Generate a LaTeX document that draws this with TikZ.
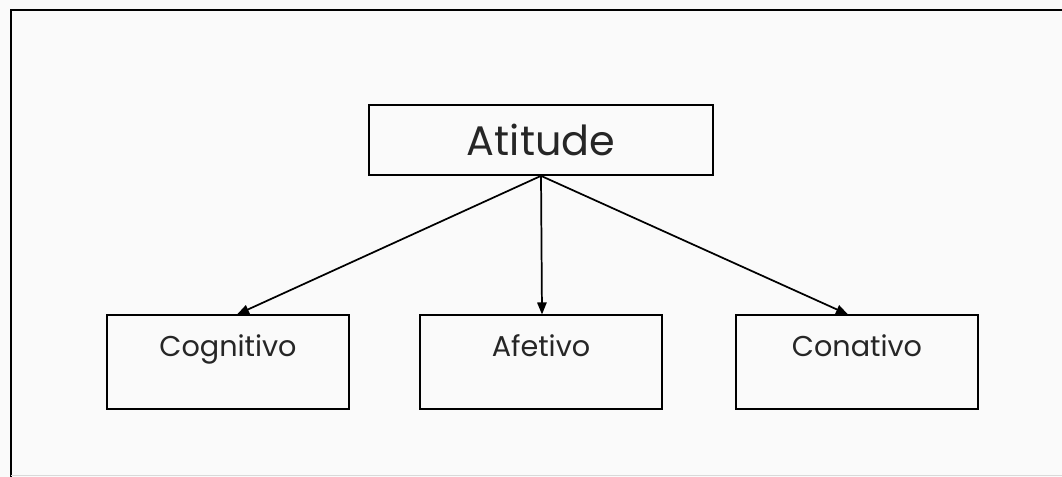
\documentclass[tikz,border=0pt]{standalone}
\usepackage{fontspec}
\setmainfont{Poppins}
\usetikzlibrary{arrows.meta}

\tikzset{
    box/.style={draw, line width=1.3pt, inner sep=0pt},
    topbox/.style={box, minimum width=258pt, minimum height=52.5pt, font=\fontsize{31}{34}\selectfont},
    lowbox/.style={box, minimum width=181pt, minimum height=70pt,
        text height=16pt, text depth=24pt, font=\fontsize{21.5}{24}\selectfont},
    arrow/.style={line width=1.3pt, -{Triangle[length=9pt,width=7pt]}}
}

\begin{document}
\begin{tikzpicture}[x=0.75pt, y=-0.75pt, text=black!85]
            \useasboundingbox (0,0) rectangle (1062,477);
            \fill[black!2] (0,0) rectangle (1062,477);
            \draw[line width=1.3pt] (1062,10) -- (11,10) -- (11,477);
            \draw[black!15] (11,475) -- (1062,475);

            \node[topbox] (atitude) at (541,140) {Atitude};
            \foreach \name/\x/\off/\txt in {cog/228/9/Cognitivo, afe/541/1/Afetivo, con/857/-9/Conativo} {
                \node[lowbox] (\name) at (\x,362) {\txt};
                \draw[arrow] (atitude.south) -- ([xshift=\off*0.75pt]\name.north);
            }
        \end{tikzpicture}
\end{document}
